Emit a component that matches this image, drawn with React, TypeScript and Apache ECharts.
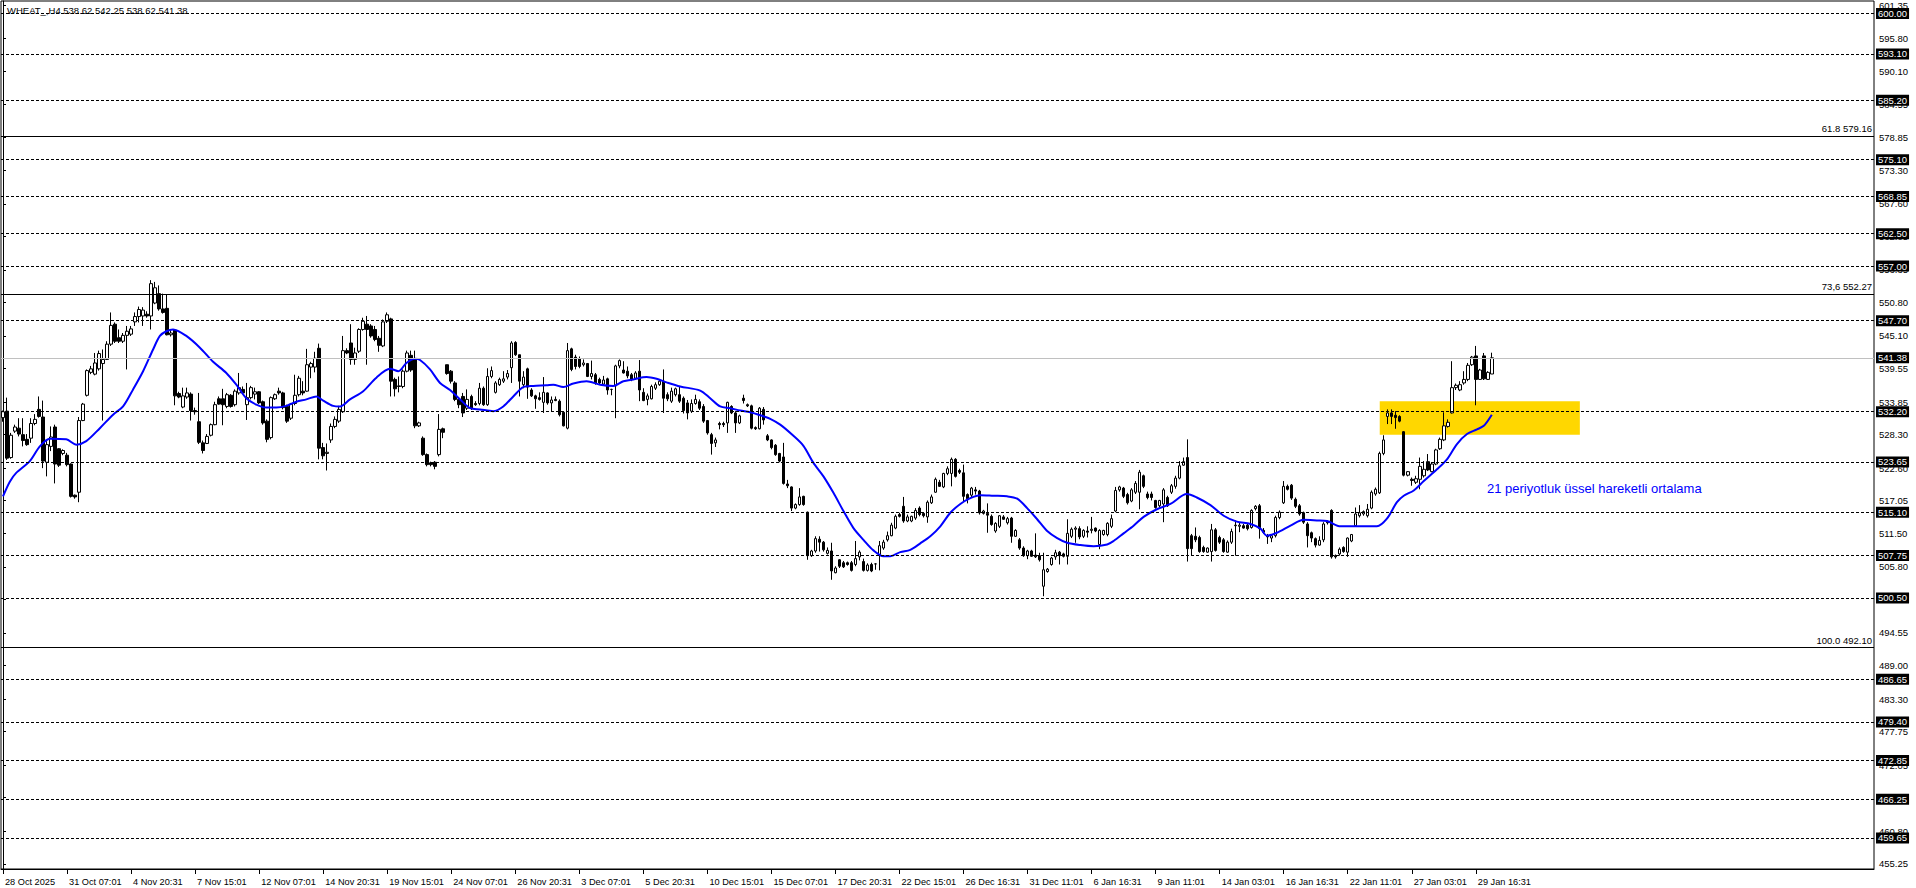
import React, { useEffect, useRef } from 'react';
import * as echarts from 'echarts';

const FONT = "'Liberation Sans', Arial, sans-serif";

// number of 4px bar slots across the plot (MT4 shift space included)
const BAR_SLOTS = 468;
const LABEL_STEP = 16;

const xTickLabels = [
  '28 Oct 2025', '31 Oct 07:01', '4 Nov 20:31', '7 Nov 15:01', '12 Nov 07:01', '14 Nov 20:31',
  '19 Nov 15:01', '24 Nov 07:01', '26 Nov 20:31', '3 Dec 07:01', '5 Dec 20:31', '10 Dec 15:01',
  '15 Dec 07:01', '17 Dec 20:31', '22 Dec 15:01', '26 Dec 16:31', '31 Dec 11:01', '6 Jan 16:31',
  '9 Jan 11:01', '14 Jan 03:01', '16 Jan 16:31', '22 Jan 11:01', '27 Jan 03:01', '29 Jan 16:31',
];

const yAxisLabels = [
  455.25, 460.8, 466.5, 472.05, 477.75, 483.3, 489.0, 494.55, 500.25, 505.8, 511.5, 517.05, 522.6,
  528.3, 533.85, 539.55, 545.1, 550.8, 556.35, 562.05, 567.6, 573.3, 578.85, 584.55, 590.1, 595.8, 601.35,
];

// H4 candles: [open, high, low, close]
const ohlc: number[][] = [
  [531.2, 532.4, 530.5, 532.2], [532.3, 534.6, 524.0, 524.3], [524.4, 528.6, 524.2, 528.2], [528.9, 530.0, 528.6, 529.6],
  [529.4, 531.1, 528.0, 528.4], [528.3, 531.1, 526.3, 527.3], [527.5, 528.4, 526.4, 526.6], [527.7, 531.1, 526.9, 530.2],
  [530.2, 531.8, 529.9, 530.9], [532.6, 534.8, 531.2, 531.4], [531.3, 534.1, 522.6, 523.8], [523.6, 527.2, 521.2, 526.6],
  [526.3, 529.7, 525.5, 527.9], [529.6, 530.0, 520.0, 523.3], [525.9, 526.0, 522.8, 523.1], [525.1, 525.8, 524.8, 525.6],
  [524.8, 525.2, 522.9, 523.2], [523.3, 523.4, 517.6, 517.8], [518.0, 518.1, 517.4, 517.7], [518.5, 531.3, 516.8, 530.7],
  [530.7, 533.7, 530.6, 533.5], [535.0, 539.4, 534.8, 539.2], [538.9, 540.0, 538.6, 539.5], [538.6, 542.2, 538.4, 540.5],
  [539.5, 542.6, 539.2, 542.1], [540.4, 542.8, 530.7, 541.1], [541.1, 544.2, 541.0, 543.7], [543.7, 549.1, 543.4, 546.9],
  [547.1, 547.4, 543.9, 544.2], [544.8, 546.2, 543.9, 544.2], [544.2, 545.6, 543.9, 545.2], [545.2, 546.8, 539.4, 545.9],
  [545.4, 546.8, 545.1, 546.3], [547.5, 549.1, 546.8, 548.4], [548.4, 550.1, 547.4, 549.6], [548.5, 550.0, 546.8, 549.5],
  [548.8, 549.3, 548.2, 548.5], [548.5, 554.6, 546.2, 554.0], [550.7, 554.3, 550.5, 553.3], [552.3, 553.7, 549.4, 549.7],
  [549.7, 552.3, 548.9, 549.1], [549.8, 552.1, 545.2, 545.3], [545.3, 546.1, 545.0, 545.6], [546.1, 546.1, 533.3, 534.9],
  [535.3, 535.6, 534.5, 534.7], [533.0, 536.3, 532.8, 534.9], [534.7, 536.3, 534.4, 535.4], [535.2, 535.5, 530.7, 532.4],
  [532.4, 532.9, 531.7, 532.2], [530.5, 535.4, 526.7, 527.0], [526.9, 527.3, 525.1, 525.6], [526.8, 528.4, 526.7, 528.0],
  [528.2, 530.2, 528.0, 530.0], [530.0, 533.9, 529.9, 533.4], [534.4, 534.8, 533.4, 533.5], [534.4, 536.1, 529.9, 533.4],
  [533.1, 535.4, 532.8, 535.1], [535.0, 535.2, 532.9, 533.1], [533.4, 536.0, 533.1, 535.7], [535.4, 538.8, 535.1, 536.3],
  [536.0, 536.5, 535.2, 535.4], [533.4, 537.1, 530.8, 534.6], [534.6, 536.6, 534.3, 536.3], [535.2, 536.3, 534.3, 535.6],
  [535.6, 535.7, 533.5, 533.7], [533.9, 534.1, 530.0, 530.3], [530.6, 530.9, 527.0, 527.5], [527.8, 534.8, 527.5, 534.6],
  [534.4, 535.3, 534.2, 535.1], [535.7, 536.3, 535.1, 535.4], [535.4, 535.6, 532.6, 532.9], [533.1, 533.4, 530.3, 530.6],
  [531.1, 533.7, 530.8, 533.5], [533.6, 538.5, 533.3, 535.0], [535.1, 538.3, 534.8, 537.9], [535.7, 537.4, 535.0, 535.4],
  [535.7, 542.9, 535.6, 540.2], [539.8, 540.7, 537.9, 540.4], [539.8, 542.4, 538.9, 541.3], [543.0, 543.8, 524.1, 526.0],
  [526.1, 526.9, 524.1, 524.7], [525.1, 526.8, 522.2, 525.3], [527.4, 530.2, 526.9, 529.7], [529.7, 531.4, 529.4, 530.9],
  [530.6, 533.2, 530.3, 532.6], [532.2, 545.1, 532.0, 542.6], [542.6, 543.0, 542.0, 542.2], [543.9, 547.1, 540.2, 541.1],
  [541.1, 543.1, 540.2, 542.2], [542.5, 546.4, 542.2, 546.2], [546.2, 548.2, 546.0, 547.6], [547.1, 548.5, 540.2, 546.2],
  [546.8, 547.1, 544.8, 545.1], [546.2, 546.8, 544.2, 544.5], [544.7, 545.1, 542.4, 543.5], [543.4, 547.9, 543.2, 547.5],
  [547.6, 549.1, 547.3, 548.7], [548.0, 548.2, 534.8, 537.4], [537.7, 538.0, 534.8, 536.1], [536.6, 538.2, 535.5, 536.5],
  [536.5, 539.4, 536.2, 539.1], [539.1, 542.6, 538.9, 542.2], [541.8, 542.6, 539.0, 539.3], [541.2, 542.6, 529.4, 529.8],
  [529.8, 530.5, 529.6, 530.3], [527.7, 528.0, 524.7, 524.9], [524.9, 525.1, 522.9, 523.2], [523.5, 523.7, 522.9, 523.2],
  [523.6, 523.8, 522.4, 522.9], [524.9, 531.8, 524.6, 529.2], [529.3, 529.5, 527.7, 528.7], [540.2, 540.2, 538.5, 538.7],
  [539.1, 539.3, 537.0, 537.4], [537.1, 537.4, 534.0, 534.3], [534.3, 534.6, 532.8, 533.4], [534.8, 535.4, 531.3, 532.0],
  [532.8, 536.0, 532.5, 534.3], [534.8, 535.1, 532.5, 532.8], [533.6, 534.0, 533.2, 533.4], [533.6, 537.1, 533.3, 536.2],
  [536.2, 536.5, 533.2, 533.4], [533.4, 539.6, 533.2, 538.2], [538.2, 539.9, 537.9, 539.2], [535.5, 537.4, 535.3, 537.1],
  [536.8, 538.0, 536.6, 537.7], [537.4, 539.1, 537.1, 537.8], [538.1, 539.3, 537.7, 538.7], [539.7, 544.2, 537.1, 543.9],
  [544.0, 544.2, 541.7, 541.9], [541.9, 541.9, 534.8, 537.4], [536.8, 539.1, 536.2, 538.1], [539.5, 539.7, 534.4, 536.4],
  [535.9, 536.2, 534.7, 534.9], [534.9, 535.1, 532.7, 534.4], [534.6, 535.5, 534.1, 534.3], [533.8, 538.1, 532.0, 535.5],
  [535.4, 535.5, 533.4, 533.7], [533.7, 534.8, 532.3, 534.2], [534.3, 534.8, 534.0, 534.1], [534.0, 534.3, 531.4, 531.7],
  [532.1, 532.3, 529.7, 529.8], [529.4, 543.9, 529.2, 542.6], [542.9, 543.1, 539.1, 539.4], [541.5, 541.9, 539.4, 539.9],
  [541.2, 541.6, 539.6, 539.9], [540.2, 541.1, 539.9, 540.5], [540.4, 540.5, 538.1, 538.2], [538.2, 540.9, 537.7, 538.7],
  [538.5, 538.8, 536.8, 537.1], [537.7, 538.0, 536.9, 537.1], [536.9, 538.3, 536.7, 537.6], [537.8, 538.0, 535.1, 535.9],
  [536.0, 536.1, 535.0, 536.0], [536.6, 540.2, 531.1, 540.0], [540.0, 541.1, 539.6, 540.9], [539.3, 540.8, 538.7, 538.8],
  [539.1, 539.9, 537.9, 538.3], [538.5, 538.8, 537.4, 537.7], [537.9, 539.1, 537.6, 538.8], [539.1, 541.0, 534.0, 535.9],
  [535.5, 536.2, 534.0, 534.1], [534.3, 535.3, 533.3, 534.9], [534.4, 536.8, 534.3, 536.5], [536.2, 537.2, 535.9, 536.8],
  [536.8, 537.7, 536.6, 537.4], [537.4, 539.4, 532.0, 534.5], [535.1, 535.5, 534.0, 534.4], [534.0, 536.3, 533.7, 535.7],
  [535.1, 536.3, 534.8, 536.1], [535.1, 536.5, 533.7, 534.0], [534.5, 534.8, 531.9, 532.4], [533.7, 534.2, 530.9, 532.0],
  [532.3, 534.3, 532.0, 533.6], [533.6, 535.1, 533.4, 534.3], [533.9, 534.3, 532.5, 532.8], [533.1, 533.5, 530.3, 530.6],
  [530.7, 530.8, 528.3, 528.6], [528.3, 528.6, 524.9, 526.8], [526.9, 527.8, 526.2, 527.4], [530.2, 530.5, 529.2, 530.0],
  [530.2, 530.5, 529.6, 530.0], [530.3, 533.9, 528.6, 533.8], [533.1, 533.3, 531.8, 532.0], [532.0, 532.3, 528.6, 530.3],
  [530.3, 531.7, 530.1, 531.5], [534.5, 535.1, 533.6, 534.1], [533.4, 533.6, 533.0, 533.2], [533.2, 533.4, 529.2, 529.4],
  [529.5, 529.7, 529.1, 529.3], [529.3, 533.0, 529.2, 532.8], [532.6, 533.0, 530.0, 530.8], [528.1, 528.4, 527.2, 527.4],
  [527.4, 527.5, 525.8, 526.1], [526.5, 526.7, 524.7, 524.9], [525.1, 525.2, 523.6, 523.8], [524.5, 526.9, 519.8, 520.0],
  [519.9, 520.6, 519.2, 519.6], [519.4, 519.5, 515.3, 515.8], [515.8, 516.6, 515.6, 516.4], [516.4, 519.2, 516.2, 517.7],
  [517.8, 517.9, 516.2, 516.4], [515.1, 515.2, 507.0, 507.7], [507.7, 508.7, 507.5, 508.5], [508.5, 511.0, 508.2, 510.6],
  [510.5, 511.0, 508.4, 510.0], [510.0, 510.2, 508.4, 508.7], [508.1, 509.1, 507.9, 508.6], [508.5, 509.9, 503.6, 505.1],
  [504.8, 505.9, 504.7, 505.6], [507.0, 507.1, 505.6, 505.9], [506.5, 506.8, 505.6, 505.8], [506.5, 506.7, 506.0, 506.2],
  [506.5, 506.8, 505.0, 505.2], [506.2, 510.2, 505.9, 507.2], [507.5, 508.6, 506.9, 508.3], [506.7, 507.2, 505.0, 505.2],
  [505.2, 506.4, 505.0, 506.1], [506.2, 506.5, 504.9, 505.1], [506.3, 506.4, 505.3, 506.3], [507.9, 510.2, 505.2, 509.4],
  [509.0, 510.4, 508.7, 510.0], [510.4, 511.8, 510.1, 511.1], [511.1, 513.3, 511.0, 512.9], [512.4, 514.7, 512.2, 514.4],
  [514.7, 515.0, 514.2, 514.4], [516.1, 517.7, 513.3, 513.6], [513.6, 514.7, 513.4, 514.3], [513.6, 514.5, 513.4, 514.4],
  [514.1, 515.8, 513.8, 515.4], [515.8, 516.1, 514.4, 514.7], [514.9, 515.0, 514.2, 514.5], [514.3, 517.1, 513.3, 516.8],
  [516.7, 518.1, 516.5, 517.7], [518.5, 521.0, 518.4, 520.7], [520.2, 520.6, 519.4, 519.5], [519.4, 521.8, 519.2, 521.7],
  [521.7, 522.9, 521.4, 522.5], [521.7, 524.4, 519.5, 524.1], [524.1, 524.3, 521.0, 521.2], [522.2, 522.5, 521.6, 521.9],
  [521.8, 523.2, 517.0, 517.8], [518.1, 518.3, 516.6, 517.4], [518.0, 519.4, 517.6, 519.2], [518.9, 519.4, 518.1, 518.7],
  [518.7, 518.9, 514.7, 515.0], [514.9, 515.5, 514.7, 515.3], [514.9, 516.6, 511.6, 514.6], [514.4, 514.7, 512.8, 513.0],
  [511.9, 513.4, 511.6, 513.2], [512.7, 514.6, 512.4, 514.5], [514.3, 514.6, 513.8, 513.9], [513.3, 514.3, 513.0, 514.0],
  [514.1, 514.3, 509.9, 511.0], [511.0, 512.2, 510.9, 512.0], [510.4, 510.7, 508.7, 509.0], [509.0, 509.3, 507.5, 507.7],
  [507.7, 508.7, 507.1, 508.5], [508.5, 508.7, 507.5, 507.6], [507.8, 511.5, 507.3, 507.5], [507.7, 508.2, 506.7, 507.0],
  [502.5, 508.2, 500.8, 505.3], [505.0, 505.6, 504.8, 505.4], [506.2, 507.5, 506.0, 507.3], [507.5, 508.7, 507.0, 508.2],
  [508.3, 508.5, 506.2, 507.7], [508.0, 508.2, 507.4, 507.6], [507.6, 513.9, 506.2, 511.5], [511.0, 512.5, 510.7, 512.2],
  [512.2, 512.7, 509.9, 512.4], [512.3, 512.7, 510.5, 510.9], [511.0, 512.2, 510.7, 512.0], [511.9, 512.7, 510.8, 511.7],
  [512.0, 514.3, 511.5, 512.2], [512.4, 512.5, 511.7, 511.9], [509.6, 512.2, 508.8, 512.0], [511.3, 512.1, 511.1, 512.0],
  [511.3, 513.4, 511.0, 513.2], [512.7, 514.7, 512.4, 514.0], [515.3, 519.4, 515.1, 518.8], [518.9, 519.6, 518.6, 519.4],
  [519.2, 519.4, 517.5, 517.8], [518.1, 518.4, 516.4, 516.7], [517.0, 519.2, 516.8, 518.9], [518.5, 520.4, 518.2, 520.0],
  [518.5, 522.3, 515.6, 521.9], [521.3, 521.5, 519.2, 519.5], [518.2, 518.6, 517.3, 517.6], [518.2, 518.6, 517.1, 517.6],
  [517.1, 517.2, 515.7, 515.9], [516.2, 517.2, 515.9, 517.1], [516.5, 519.2, 513.4, 518.9], [517.6, 517.9, 516.0, 516.2],
  [518.5, 519.9, 518.2, 519.6], [519.5, 521.3, 519.1, 520.9], [520.9, 523.8, 520.7, 523.0], [523.1, 524.4, 523.0, 523.7],
  [524.4, 527.5, 506.7, 508.9], [511.1, 511.4, 507.7, 508.9], [511.0, 512.5, 510.0, 510.4], [510.8, 511.1, 508.2, 508.4],
  [509.1, 509.4, 508.2, 508.4], [508.3, 509.1, 508.2, 509.0], [508.4, 513.1, 506.7, 512.1], [512.1, 512.4, 508.4, 508.6],
  [510.8, 511.1, 509.7, 510.0], [510.4, 510.7, 508.2, 508.4], [508.3, 510.3, 508.2, 510.0], [510.0, 512.3, 509.7, 511.8],
  [512.8, 513.7, 507.7, 512.9], [512.7, 513.4, 511.7, 512.9], [512.8, 513.1, 512.3, 512.4], [512.9, 513.2, 512.0, 512.3],
  [512.5, 515.6, 512.3, 515.4], [515.7, 516.3, 515.4, 516.1], [516.2, 516.5, 510.6, 512.3], [512.0, 512.4, 511.4, 511.7],
  [511.1, 511.4, 509.7, 510.9], [510.7, 511.4, 510.0, 511.1], [511.1, 514.5, 510.8, 514.2], [514.2, 515.4, 513.9, 515.1],
  [516.7, 520.4, 516.5, 519.5], [519.5, 519.8, 518.8, 519.0], [519.7, 519.9, 517.2, 517.5], [517.3, 517.6, 515.8, 516.1],
  [516.2, 516.5, 514.5, 514.8], [515.0, 515.2, 513.1, 513.4], [513.1, 513.4, 509.1, 511.1], [511.6, 511.8, 510.0, 510.7],
  [510.6, 510.8, 509.1, 509.5], [509.5, 511.0, 509.4, 510.3], [510.4, 513.4, 510.0, 513.1], [513.5, 513.7, 513.0, 513.3],
  [515.4, 515.6, 507.2, 507.5], [507.7, 507.9, 507.2, 507.5], [508.0, 509.1, 507.7, 508.8], [509.1, 509.3, 508.2, 508.4],
  [508.3, 510.8, 507.5, 510.7], [510.2, 511.4, 510.0, 511.3], [512.8, 515.9, 512.7, 514.8], [514.5, 516.3, 514.2, 515.0],
  [514.8, 515.4, 514.5, 515.2], [514.5, 516.5, 514.2, 515.6], [515.8, 518.8, 515.6, 518.5], [518.2, 519.3, 517.9, 519.0],
  [518.4, 525.4, 518.2, 525.1], [525.1, 528.2, 524.8, 527.4], [531.4, 532.6, 530.1, 532.0], [532.0, 532.6, 530.1, 531.4],
  [531.6, 532.3, 529.3, 531.2], [531.4, 531.6, 530.4, 530.6], [528.8, 528.9, 521.2, 521.4], [521.4, 522.1, 521.2, 522.0],
  [520.7, 521.0, 519.6, 520.5], [520.2, 521.3, 519.9, 520.8], [520.7, 524.4, 519.0, 522.9], [521.3, 523.8, 521.0, 522.4],
  [523.7, 525.0, 522.1, 522.3], [522.0, 523.6, 521.9, 523.3], [523.3, 525.9, 523.1, 525.7], [525.9, 527.8, 525.7, 527.5],
  [527.4, 532.1, 527.2, 529.8], [529.7, 530.9, 529.5, 530.4], [532.0, 540.8, 531.9, 536.3], [536.3, 537.0, 535.9, 536.7],
  [535.9, 537.4, 535.7, 536.8], [537.1, 539.1, 536.8, 537.7], [537.7, 540.5, 537.4, 540.1], [540.2, 541.7, 540.0, 541.5],
  [541.7, 543.4, 533.3, 537.7], [537.7, 539.5, 537.6, 539.3], [541.7, 542.2, 537.6, 537.8], [537.7, 539.1, 537.6, 538.9],
  [538.62, 542.25, 538.62, 541.38],
];

// 21-period EMA: [bar position, value]
const emaPoints: number[][] = [
  [0, 517.8], [1.7, 520.3], [3.3, 521.8], [6.7, 523.8], [9.2, 526.3], [11.7, 527.6], [15.8, 527.5], [18.3, 526.6],
  [20.8, 527.2], [24.2, 529.4], [27.5, 531.7], [30, 533.1], [32.5, 536.0], [35, 539.1], [37.5, 542.8], [39.2, 545.1],
  [40.8, 545.9], [42.5, 546.2], [45.8, 545.1], [49.2, 543.1], [52.5, 540.7], [55.8, 538.8], [58.3, 536.8], [60.8, 534.5],
  [63.3, 533.4], [65.8, 532.9], [68.3, 532.9], [70.8, 533.2], [73.3, 533.9], [75.8, 534.3], [78.3, 534.8], [80, 534.1],
  [82.5, 533.2], [84.2, 533.1], [86.7, 534.3], [90, 535.7], [93.3, 538.0], [96.7, 539.5], [98.8, 539.1], [100.8, 540.5],
  [102.9, 541.2], [104.2, 541.0], [106.7, 539.4], [109.2, 537.1], [111.7, 535.9], [114.2, 534.3], [116.7, 532.8],
  [119.2, 532.6], [122.5, 532.3], [125, 533.1], [127.5, 534.8], [130, 536.4], [132.5, 536.6], [135.8, 536.7],
  [137.5, 536.8], [140, 536.4], [142.5, 537.0], [145.8, 537.4], [149.2, 536.8], [152.5, 536.6], [155, 537.4],
  [157.5, 537.7], [160.8, 538.1], [163.3, 537.8], [165.8, 537.2], [169.2, 536.5], [174.2, 535.8], [176.7, 534.5],
  [179.2, 533.1], [181.7, 532.8], [184.2, 532.4], [186.7, 532.1], [189.2, 531.6], [191.7, 531.0], [194.2, 530.0],
  [197.5, 528.1], [200, 526.4], [202.5, 523.5], [205, 521.2], [207.5, 518.4], [210, 515.3], [212.5, 512.4],
  [215, 510.4], [217.5, 508.6], [220, 507.6], [221.7, 507.6], [224.2, 508.3], [226.7, 508.7], [229.2, 509.8],
  [231.7, 511.0], [234.2, 512.7], [236.7, 515.0], [239.2, 516.5], [241.7, 517.5], [244.2, 518.0], [247.5, 517.9],
  [250.9, 517.8], [253.4, 517.4], [255.9, 515.8], [258.4, 513.9], [260.9, 511.9], [263.4, 510.7], [265.9, 509.9],
  [269.2, 509.5], [272.5, 509.3], [275.9, 509.6], [277.5, 510.2], [280, 511.5], [282.5, 512.8], [285, 514.3],
  [288.3, 515.6], [291.7, 516.5], [295.8, 518.2], [298.3, 517.6], [301.7, 516.3], [305, 514.5], [308.3, 513.5],
  [311.7, 513.1], [314.2, 512.3], [315.8, 511.1], [318.3, 511.6], [321.7, 512.8], [325, 513.8], [328.3, 513.7],
  [330.8, 513.6], [334.2, 512.7], [338.3, 512.7], [343.3, 512.7], [345.8, 514.0], [348.3, 516.8], [350, 517.9],
  [352.5, 518.8], [355, 520.4], [358.3, 522.4], [360.8, 524.1], [363.3, 526.7], [365.8, 528.4], [368.3, 529.2],
  [370, 529.8], [372, 531.7],
];

const dashedLevels = [
  600.0, 593.1, 585.2, 575.1, 568.85, 562.5, 557.0, 547.7, 532.2, 523.65, 515.1, 507.75, 500.5,
  486.65, 479.4, 472.85, 466.25, 459.65,
];
const bidPrice = 541.38;
const fibLevels = [
  { name: '61.8', value: 579.16 },
  { name: '73,6', value: 552.27 },
  { name: '100.0', value: 492.1 },
];
const zone = { from: '344', to: '394', top: 534.0, bottom: 528.3 };

const titleText = 'WHEAT_,H4 538.62 542.25 538.62 541.38';
const noteText = '21 periyotluk üssel hareketli ortalama';

const Y_MIN = 454.37;
const Y_MAX = 602.11;

function buildOption() {
  const categories = Array.from({ length: BAR_SLOTS }, (_, i) => String(i));
  const isLabelSlot = (i: number) => i % LABEL_STEP === 0 && i / LABEL_STEP < xTickLabels.length;
  const candleData = ohlc.map(([o, h, l, c]) => [o, c, Math.min(l, o, c), Math.max(h, o, c)]);

  const boxLabel = (v: number) => ({
    show: true,
    position: 'end',
    distance: 2,
    formatter: v.toFixed(2),
    color: '#fff',
    backgroundColor: '#000',
    padding: [1, 2, 0, 2],
    fontSize: 9.5,
    fontFamily: FONT,
  });

  const markLines: any[] = [];
  dashedLevels.forEach((v) => {
    markLines.push({
      yAxis: v,
      lineStyle: { color: '#000', width: 1, type: [3, 2] },
      label: boxLabel(v),
    });
  });
  markLines.push({
    yAxis: bidPrice,
    lineStyle: { color: '#c0c0c0', width: 1, type: 'solid' },
    label: boxLabel(bidPrice),
  });
  fibLevels.forEach((f) => {
    markLines.push({
      yAxis: f.value,
      lineStyle: { color: '#000', width: 1, type: 'solid' },
      label: {
        show: true,
        position: 'insideEndTop',
        distance: 2,
        formatter: `${f.name} ${f.value.toFixed(2)}`,
        color: '#000',
        fontSize: 9.5,
        fontFamily: FONT,
      },
    });
  });

  return {
    animation: false,
    backgroundColor: '#fff',
    grid: {
      left: 1,
      right: 42,
      top: 1,
      bottom: 19,
      show: true,
      borderColor: '#000',
      borderWidth: 1,
      backgroundColor: 'transparent',
    },
    xAxis: [
      {
        type: 'category',
        data: categories,
        boundaryGap: true,
        axisLine: { show: true, lineStyle: { color: '#000', width: 1 } },
        axisTick: {
          show: true,
          interval: (i: number) => isLabelSlot(i),
          alignWithLabel: true,
          length: 5,
          lineStyle: { color: '#000' },
        },
        axisLabel: {
          interval: (i: number) => isLabelSlot(i),
          formatter: (_v: string, i: number) => xTickLabels[i / LABEL_STEP] ?? '',
          align: 'left',
          margin: 8,
          padding: [0, 0, 0, 2],
          color: '#000',
          fontSize: 9.2,
          fontFamily: FONT,
        },
        splitLine: { show: false },
      },
      { type: 'value', min: -0.5, max: BAR_SLOTS - 0.5, show: false },
    ],
    yAxis: {
      type: 'value',
      position: 'right',
      min: Y_MIN,
      max: Y_MAX,
      axisLine: { show: true, lineStyle: { color: '#000', width: 1 } },
      axisTick: { show: true, customValues: yAxisLabels, length: 3, lineStyle: { color: '#000' } },
      axisLabel: {
        customValues: yAxisLabels,
        formatter: (v: number) => v.toFixed(2),
        margin: 5,
        color: '#000',
        fontSize: 9.5,
        fontFamily: FONT,
      },
      splitLine: { show: false },
    },
    series: [
      {
        type: 'candlestick',
        xAxisIndex: 0,
        yAxisIndex: 0,
        data: candleData,
        barWidth: 3,
        silent: true,
        itemStyle: {
          color: '#fff',
          color0: '#000',
          borderColor: '#000',
          borderColor0: '#000',
          borderColorDoji: '#000',
          borderWidth: 1,
        },
        markArea: {
          silent: true,
          itemStyle: { color: '#ffd700' },
          data: [[{ xAxis: zone.from, yAxis: zone.top }, { xAxis: zone.to, yAxis: zone.bottom }]],
        },
        markLine: {
          silent: true,
          symbol: ['none', 'none'],
          animation: false,
          data: markLines,
        },
      },
      {
        type: 'line',
        xAxisIndex: 1,
        yAxisIndex: 0,
        data: emaPoints,
        showSymbol: false,
        smooth: 0.3,
        silent: true,
        z: 3,
        lineStyle: { color: '#0000ff', width: 2 },
      },
    ],
    graphic: [
      {
        type: 'text',
        x: 7,
        y: 10,
        style: {
          text: titleText,
          fill: '#000',
          fontSize: 9.5,
          fontFamily: FONT,
          verticalAlign: 'middle',
          align: 'left',
        },
      },
      {
        type: 'text',
        x: 1487,
        y: 488,
        style: {
          text: noteText,
          fill: '#0000ff',
          fontSize: 13,
          fontFamily: FONT,
          verticalAlign: 'middle',
          align: 'left',
        },
      },
    ],
  };
}

export default function App() {
  const ref = useRef<HTMLDivElement>(null);
  useEffect(() => {
    document.body.style.margin = '0';
    const chart = echarts.init(ref.current as HTMLDivElement, null, { renderer: 'svg' });
    chart.setOption(buildOption() as any);
    return () => chart.dispose();
  }, []);
  return <div ref={ref} style={{ width: 1916, height: 888, background: '#fff' }} />;
}
